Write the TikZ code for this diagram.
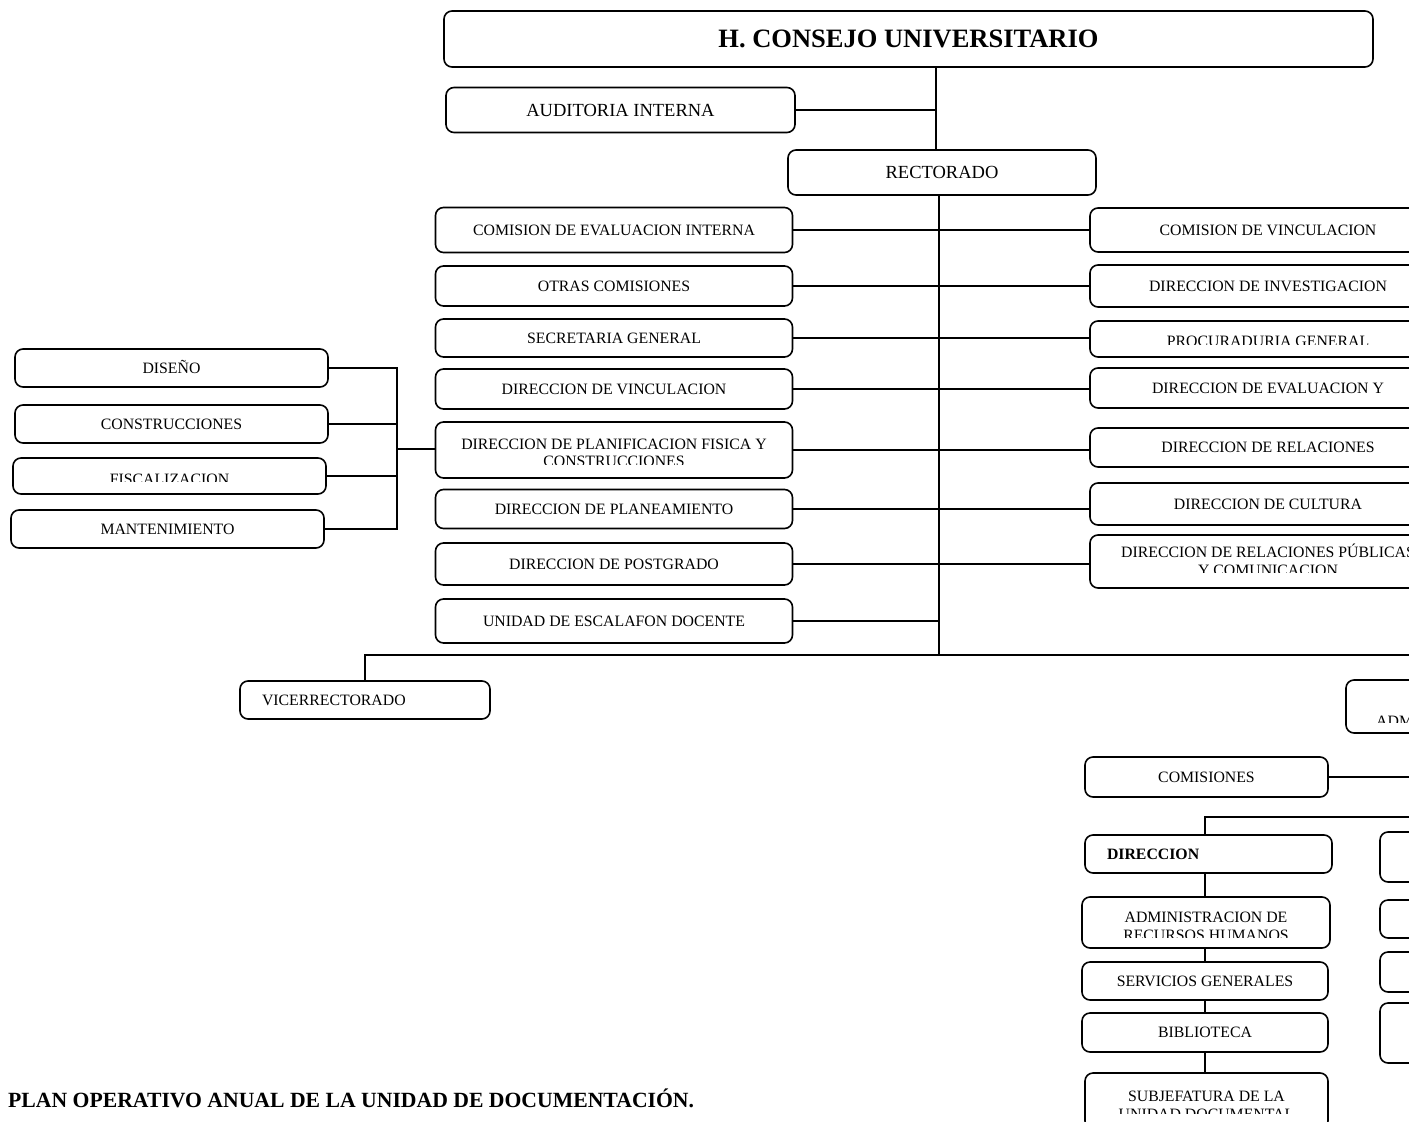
\documentclass[tikz,border=0pt]{standalone}
\usepackage{fontspec}
\setmainfont{Liberation Serif}
\usetikzlibrary{positioning, calc}
\tikzset{
  caja/.style={draw=black, line width=1.6pt, rounded corners=8pt, inner sep=0pt, text centered},
  texto/.style={font=\fontsize{15.8}{17}\selectfont, text height=10.4pt, text depth=0pt, inner sep=0pt},
  textogr/.style={font=\fontsize{18.5}{21}\selectfont, text height=12.2pt, text depth=0pt, inner sep=0pt},
  titulo/.style={font=\fontsize{26.5}{30}\selectfont\bfseries, text height=17.5pt, text depth=0pt, inner sep=0pt},
  tituloplan/.style={font=\fontsize{21.7}{25}\selectfont\bfseries, inner sep=0pt},
  linea/.style={line width=1.6pt},
  lineafina/.style={line width=1.2pt}
}

\begin{document}
\begin{tikzpicture}[x=1pt, y=-1pt]

    % marco de la hoja
    \fill[white] (0,0) rectangle (1409,1122);
    \useasboundingbox (0,0) rectangle (1409,1122);
    \clip (0,0) rectangle (1409,1122);

    % 1. Consejo, auditoria y rectorado
    \node[caja, titulo, minimum width=929, minimum height=56] (consejo) at (908.5,39) {H. CONSEJO UNIVERSITARIO};
    \node[caja, textogr, minimum width=349, minimum height=45] (auditoria) at (620.5,110) {AUDITORIA INTERNA};
    \node[caja, textogr, minimum width=308, minimum height=45] (rectorado) at (942,172.5) {RECTORADO};

    \coordinate (eje) at (936,110);
    \draw[lineafina] (consejo.south -| eje) -- (rectorado.north -| eje);
    \draw[lineafina] (auditoria.east) -- (eje);

    % 2. Columna izquierda (x = 614)
    \foreach \nom/\y/\h/\txt in {
        cei/230/45/{COMISION DE EVALUACION INTERNA},
        otras/286/40/{OTRAS COMISIONES},
        secre/338/38/{SECRETARIA GENERAL},
        dvinc/389/40/{DIRECCION DE VINCULACION},
        plane/509/39/{DIRECCION DE PLANEAMIENTO},
        postg/564/42/{DIRECCION DE POSTGRADO},
        escal/621/44/{UNIDAD DE ESCALAFON DOCENTE}
    } {
        \node[caja, texto, minimum width=357, minimum height=\h] (\nom) at (614,\y) {\txt};
    }

    % planificacion: segunda linea cortada
    \node[caja, minimum width=357, minimum height=56] (planif) at (614,450) {};
    \begin{scope}
        \clip (436,420) rectangle (792,464.5);
        \node[texto] (planif1) at (614,444) {DIRECCION DE PLANIFICACION FISICA Y};
        \node[texto, below=6.6pt of planif1] (planif2) {CONSTRUCCIONES};
    \end{scope}

    % 3. Columna derecha (x = 1268), se sale de la hoja
    \foreach \nom/\y/\h/\txt in {
        cvin/230/44/{COMISION DE VINCULACION},
        dinv/286/42/{DIRECCION DE INVESTIGACION},
        deval/388/40/{DIRECCION DE EVALUACION Y},
        drel/447.5/39/{DIRECCION DE RELACIONES},
        cult/504/42/{DIRECCION DE CULTURA}
    } {
        \node[caja, texto, minimum width=356, minimum height=\h] (\nom) at (1268,\y) {\txt};
    }

    \node[caja, minimum width=356, minimum height=36] (procu) at (1268,339) {};
    \begin{scope}
        \clip (1090,320) rectangle (1420,344.8);
        \node[texto] (procutxt) at (1268,341) {PROCURADURIA GENERAL};
    \end{scope}

    \node[caja, minimum width=356, minimum height=53] (rpub) at (1268,561.5) {};
    \begin{scope}
        \clip (1090,534) rectangle (1420,572);
        \node[texto] (rpub1) at (1268,552.5) {DIRECCION DE RELACIONES PÚBLICAS};
        \node[texto, below=7pt of rpub1] (rpub2) {Y COMUNICACION};
    \end{scope}

    % conexiones al eje del rectorado
    \coordinate (nudo) at (939,655);
    \draw[linea] (rectorado.south -| nudo) -- (nudo);
    \foreach \a/\b in {cei/cvin, otras/dinv, secre/procu, dvinc/deval, planif/drel, plane/cult, postg/rpub} {
        \draw[linea] (\a.east) -- (\a.east -| \b.west);
    }
    \draw[linea] (escal.east) -- (escal.east -| nudo);

    % 4. Departamentos de planificacion fisica
    \node[caja, texto, minimum width=313, minimum height=38] (diseno) at (171.5,368) {DISEÑO};
    \node[caja, texto, minimum width=313, minimum height=38] (constr) at (171.5,424) {CONSTRUCCIONES};
    \node[caja, minimum width=313, minimum height=36] (fiscal) at (169.5,476) {};
    \begin{scope}
        \clip (13,456) rectangle (326,481.8);
        \node[texto] (fiscaltxt) at (169.5,479) {FISCALIZACION};
    \end{scope}
    \node[caja, texto, minimum width=313, minimum height=38] (mant) at (167.5,529) {MANTENIMIENTO};

    \coordinate (busizq) at (397,449);
    \draw[linea] (diseno.east) -| (busizq) |- (mant.east);
    \draw[linea] (constr.east) -- (constr.east -| busizq);
    \draw[linea] (fiscal.east) -- (fiscal.east -| busizq);
    \draw[linea] (busizq) -- (busizq -| planif.west);

    % 5. Vicerrectorado y barra inferior
    \node[caja, texto, minimum width=250, minimum height=38, inner xsep=22pt, text width=206pt, align=left] (vice) at (365,700) {VICERRECTORADO};
    \coordinate (bordeder) at (1430,655);
    \draw[linea] (vice.north) |- (bordeder);

    % 6. Rama administrativa (cortada por el borde)
    \node[caja, minimum width=300, minimum height=53] (adm) at (1496,706.5) {};
    \begin{scope}
        \clip (1346,680) rectangle (1420,722);
        \node[texto, anchor=west] (admtxt) at (1376,721.5) {ADM};
    \end{scope}

    \node[caja, texto, minimum width=243, minimum height=40] (comis) at (1206.5,777) {COMISIONES};
    \draw[linea] (comis.east) -- (comis.east -| bordeder);

    \coordinate (rama) at (1205,817);
    \node[caja, texto, font=\fontsize{15.8}{17}\selectfont\bfseries, minimum width=247, minimum height=38, inner xsep=22pt, text width=203pt, align=left] (direc) at (1208.5,854) {DIRECCION};
    \draw[linea] (direc.north -| rama) -- (rama) -- (rama -| bordeder);

    \node[caja, minimum width=248, minimum height=51] (arh) at (1206,922.5) {};
    \begin{scope}
        \clip (1082,896) rectangle (1330,937);
        \node[texto] (arh1) at (1206,917.5) {ADMINISTRACION DE};
        \node[texto, below=7pt of arh1] (arh2) {RECURSOS HUMANOS};
    \end{scope}
    \node[caja, texto, minimum width=246, minimum height=38] (serv) at (1205,981) {SERVICIOS GENERALES};
    \node[caja, texto, minimum width=246, minimum height=39] (bibl) at (1205,1032.5) {BIBLIOTECA};
    \node[caja, minimum width=243, minimum height=56] (subj) at (1206.5,1101) {};
    \begin{scope}
        \clip (1085,1072) rectangle (1328,1113.5);
        \node[texto] (subj1) at (1206.5,1096) {SUBJEFATURA DE LA};
        \node[texto, below=7pt of subj1] (subj2) {UNIDAD DOCUMENTAL};
    \end{scope}

    \foreach \a/\b in {direc/arh, arh/serv, serv/bibl, bibl/subj} {
        \draw[linea] (\a.south -| rama) -- (\b.north -| rama);
    }

    % cajas vecinas que quedan fuera de la hoja
    \node[caja, minimum width=247, minimum height=50] (otra1) at (1503.5,857) {};
    \node[caja, minimum width=247, minimum height=38] (otra2) at (1503.5,919) {};
    \node[caja, minimum width=247, minimum height=40] (otra3) at (1503.5,972) {};
    \node[caja, minimum width=247, minimum height=60] (otra4) at (1503.5,1033) {};

    % 7. Titulo del plan
    \node[tituloplan, anchor=base west] (plan) at (8,1107) {PLAN OPERATIVO ANUAL DE LA UNIDAD DE DOCUMENTACIÓN.};

\end{tikzpicture}
\end{document}
